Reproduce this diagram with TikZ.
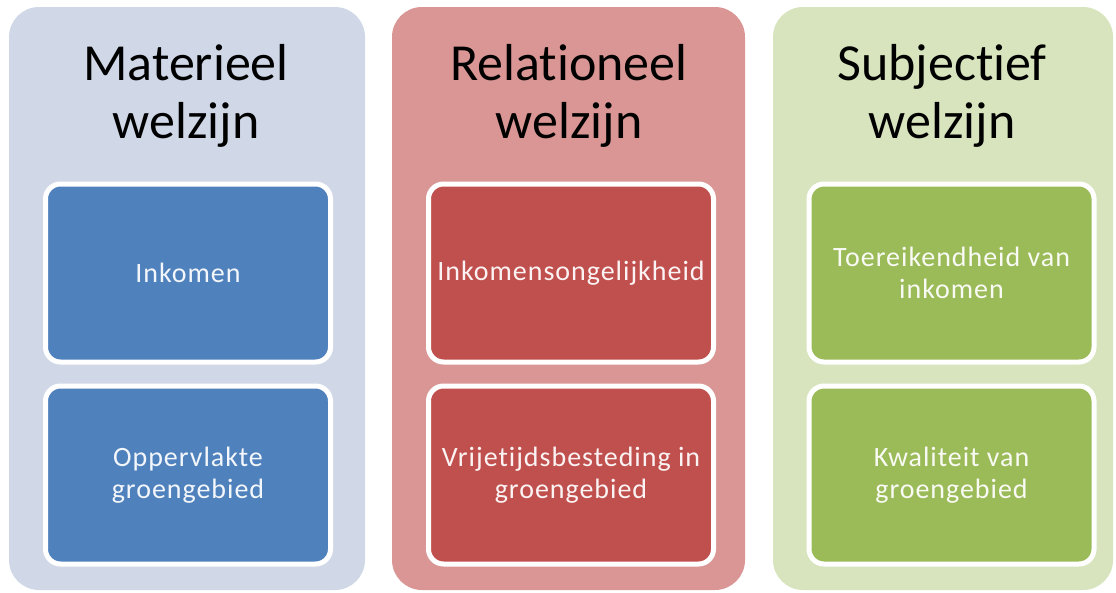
\documentclass[tikz,border=0pt]{standalone}
\usepackage{fontspec}
\setmainfont{Carlito}[Ligatures=NoCommon]
\newfontfamily\boxfont{Carlito}[Ligatures=NoCommon, LetterSpace=3.5]
\definecolor{panelA}{HTML}{D0D8E8}
\definecolor{boxA}{HTML}{4F81BD}
\definecolor{panelB}{HTML}{D99694}
\definecolor{boxB}{HTML}{C0504D}
\definecolor{panelC}{HTML}{D7E4BD}
\definecolor{boxC}{HTML}{9BBB59}
\begin{document}
\begin{tikzpicture}[x=1pt,y=-1pt,
  panel/.style={rectangle, rounded corners=30pt, minimum width=#1, minimum height=583pt, inner sep=0pt},
  title/.style={font=\fontsize{52}{58}\selectfont, align=center, anchor=base, text=black, inner sep=0pt},
  itembox/.style={rectangle, rounded corners=15pt, draw=white, line width=5pt, minimum width=285pt, minimum height=178pt, inner sep=0pt, align=center, font=\boxfont\fontsize{28}{32}\selectfont}
]
\path[use as bounding box] (0,0) rectangle (1116,592);
% panels
\node[panel=356pt, fill=panelA] (pA) at (187,298.5) {};
\node[panel=353pt, fill=panelB] (pB) at (568.5,298.5) {};
\node[panel=340pt, fill=panelC] (pC) at (943,298.5) {};
% titles (anchor base = last line baseline)
\node[title] (tA) at (186,138) {Materieel\\welzijn};
\node[title] (tB) at (569,138) {Relationeel\\welzijn};
\node[title] (tC) at (942,138) {Subjectief\\welzijn};
% boxes
\node[itembox, fill=boxA, text=white!93!boxA] (a1) at (188,273) {Inkomen};
\node[itembox, fill=boxA, text=white!93!boxA] (a2) at (188,475) {Oppervlakte\\groengebied};
\node[itembox, fill=boxB, text=white!93!boxB] (b1) at (571,273) {Inkomensongelijkheid};
\node[itembox, fill=boxB, text=white!93!boxB] (b2) at (571,475) {Vrijetijdsbesteding in\\groengebied};
\node[itembox, fill=boxC, text=white!93!boxC] (c1) at (951.5,273) {Toereikendheid van\\inkomen};
\node[itembox, fill=boxC, text=white!93!boxC] (c2) at (951.5,475) {Kwaliteit van\\groengebied};
\end{tikzpicture}
\end{document}
